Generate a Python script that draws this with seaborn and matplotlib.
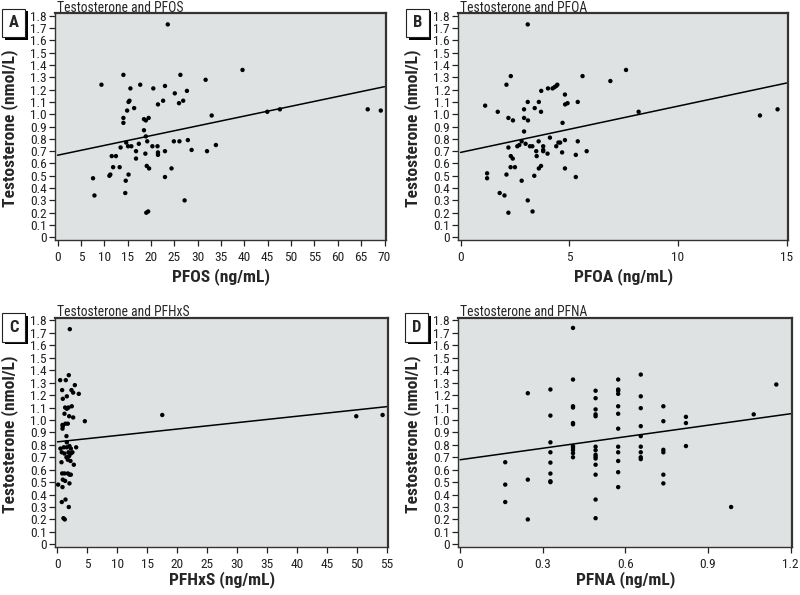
import pandas as pd
import matplotlib
matplotlib.use("Agg")
import matplotlib.pyplot as plt
import matplotlib.patheffects as pe
from matplotlib import font_manager
import seaborn as sns

# Panel A: PFOS
pfos_x = [23.6, 66.4, 69.2, 44.9, 47.6, 39.6, 31.7, 26.3, 14.1, 9.4, 17.7, 15.6, 20.5, 23.0,
          27.7, 25.1, 15.2, 15.4, 22.6, 26.9, 26.0, 21.5, 16.4, 14.9, 33.0, 14.1, 14.1, 19.5,
          18.5, 18.9, 18.5, 18.9, 19.2, 14.7, 17.4, 15.1, 15.8, 20.3, 21.4, 13.5, 24.9, 26.1,
          27.9, 33.9, 16.8, 23.0, 28.7, 32.0, 21.5, 21.5, 18.8, 11.6, 12.5, 16.8, 11.9, 13.3,
          19.1, 19.6, 24.4, 15.2, 11.3, 11.1, 7.6, 23.0, 14.6, 14.5, 7.9, 27.2, 19.0, 19.4]
pfos_y = [1.73, 1.04, 1.03, 1.02, 1.04, 1.36, 1.28, 1.32, 1.32, 1.24, 1.24, 1.21, 1.21, 1.23,
          1.19, 1.17, 1.10, 1.11, 1.11, 1.11, 1.09, 1.08, 1.05, 1.03, 0.99, 0.97, 0.93, 0.97,
          0.96, 0.95, 0.87, 0.82, 0.78, 0.77, 0.76, 0.74, 0.74, 0.74, 0.74, 0.73, 0.78, 0.78,
          0.79, 0.75, 0.70, 0.70, 0.71, 0.70, 0.69, 0.67, 0.68, 0.66, 0.66, 0.64, 0.57, 0.57,
          0.58, 0.56, 0.56, 0.51, 0.51, 0.50, 0.48, 0.49, 0.46, 0.36, 0.34, 0.30, 0.20, 0.21]

# Panel B: PFOA
pfoa_x = [3.09, 14.58, 13.77, 8.19, 7.61, 6.89, 5.61, 2.31, 2.11, 4.02, 4.23, 4.32, 4.40, 4.45,
          3.71, 4.80, 3.09, 3.60, 5.39, 4.92, 4.81, 1.13, 2.92, 1.71, 3.41, 3.70, 2.20, 2.92,
          3.10, 2.41, 4.69, 2.92, 4.11, 2.81, 3.59, 4.80, 5.39, 4.50, 4.58, 2.99, 3.19, 3.30,
          2.70, 2.61, 3.80, 4.40, 2.20, 3.48, 3.80, 3.80, 5.80, 4.00, 4.67, 5.30, 2.31, 3.50,
          2.40, 2.30, 2.50, 3.70, 3.60, 4.80, 1.22, 1.22, 2.11, 3.39, 5.30, 2.81, 1.80, 2.02,
          3.09, 2.20, 3.31]
pfoa_y = [1.73, 1.04, 0.99, 1.02, 1.36, 1.27, 1.31, 1.31, 1.24, 1.21, 1.21, 1.22, 1.23, 1.24,
          1.19, 1.16, 1.10, 1.10, 1.10, 1.09, 1.08, 1.07, 1.04, 1.02, 1.05, 1.02, 0.97, 0.97,
          0.95, 0.95, 0.93, 0.86, 0.81, 0.78, 0.78, 0.79, 0.78, 0.77, 0.77, 0.76, 0.74, 0.74,
          0.75, 0.74, 0.74, 0.74, 0.73, 0.70, 0.71, 0.70, 0.70, 0.68, 0.69, 0.67, 0.66, 0.66,
          0.64, 0.57, 0.57, 0.58, 0.56, 0.56, 0.52, 0.48, 0.51, 0.50, 0.49, 0.46, 0.36, 0.34,
          0.30, 0.20, 0.21]

# Panel C: PFHxS
pfhxs_x = [2.06, 49.9, 54.3, 17.5, 4.57, 1.89, 0.45, 1.39, 2.90, 0.78, 2.34, 2.62, 3.56, 1.56,
           0.89, 1.28, 1.56, 1.84, 2.39, 1.17, 1.95, 2.62, 0.84, 0.89, 1.34, 1.73, 0.84, 1.50,
           1.56, 0.50, 1.06, 1.56, 2.00, 2.23, 3.12, 0.72, 1.17, 1.84, 2.50, 2.23, 1.50, 1.95,
           1.73, 2.17, 0.67, 2.73, 0.78, 1.17, 1.73, 2.00, 2.23, 0.89, 1.28, 2.00, 0.11, 0.84,
           1.34, 0.72, 1.89, 1.00, 1.22]
pfhxs_y = [1.73, 1.03, 1.04, 1.04, 0.99, 1.36, 1.32, 1.32, 1.28, 1.24, 1.24, 1.22, 1.21, 1.19,
           1.17, 1.10, 1.09, 1.10, 1.11, 1.05, 1.03, 1.02, 0.96, 0.95, 0.97, 0.97, 0.93, 0.87,
           0.82, 0.77, 0.78, 0.78, 0.79, 0.77, 0.78, 0.74, 0.73, 0.74, 0.74, 0.73, 0.70, 0.71,
           0.68, 0.67, 0.66, 0.64, 0.57, 0.57, 0.57, 0.56, 0.56, 0.52, 0.51, 0.49, 0.48, 0.46,
           0.36, 0.34, 0.30, 0.21, 0.20]

# Panel D: PFNA (values fall in discrete columns)
pfna_x = ([0.164] * 3 + [0.246] * 3 + [0.328] * 8 + [0.41] * 11 + [0.492] * 14
          + [0.574] * 12 + [0.656] * 9 + [0.738] * 6 + [0.82] * 3 + [0.984, 1.066, 1.148])
pfna_y = [0.66, 0.48, 0.34,
          1.215, 0.52, 0.20,
          1.245, 1.035, 0.82, 0.74, 0.657, 0.569, 0.507, 0.50,
          1.74, 1.325, 1.11, 1.10, 0.975, 0.965, 0.79, 0.775, 0.757, 0.733, 0.70,
          1.235, 1.175, 1.085, 1.045, 1.03, 0.785, 0.757, 0.72, 0.705, 0.69, 0.64, 0.56, 0.36, 0.21,
          1.325, 1.245, 1.235, 1.21, 1.11, 1.05, 0.93, 0.785, 0.74, 0.67, 0.58, 0.46,
          1.365, 1.19, 1.095, 0.95, 0.87, 0.785, 0.74, 0.70, 0.685,
          1.11, 0.99, 0.76, 0.74, 0.56, 0.49,
          1.025, 0.975, 0.79,
          0.30, 1.045, 1.285]

# regression lines (value at x=0, value at right end)
fit_start = [0.667, 0.69, 0.824, 0.68]
fit_end = [1.224, 1.254, 1.107, 1.05]

letters = ["A", "B", "C", "D"]
titles = ["Testosterone and PFOS", "Testosterone and PFOA",
          "Testosterone and PFHxS", "Testosterone and PFNA"]
xlabels = ["PFOS (ng/mL)", "PFOA (ng/mL)", "PFHxS (ng/mL)", "PFNA (ng/mL)"]
xticks = [list(range(0, 71, 5)), [0, 5, 10, 15], list(range(0, 56, 5)), [0, 0.3, 0.6, 0.9, 1.2]]
xtick_labels = [[str(v) for v in xticks[0]], ["0", "5", "10", "15"],
                [str(v) for v in xticks[2]], ["0", "0.3", "0.6", "0.9", "1.2"]]
xlims = [(-0.5, 70.4), (-0.1, 15.06), (-0.38, 55.2), (-0.006, 1.205)]
yticks = [i / 10 for i in range(19)]
ytick_labels = ["0"] + ["%.1f" % v for v in yticks[1:]]

xs = [pfos_x, pfoa_x, pfhxs_x, pfna_x]
ys = [pfos_y, pfoa_y, pfhxs_y, pfna_y]

sns.set_style("white")

# the original uses a condensed face; pick one if the system has it
entries = font_manager.fontManager.ttflist
names = {f.name for f in entries}
narrow = [n for n in ["Liberation Sans Narrow", "Roboto Condensed", "Open Sans Condensed",
                      "Noto Sans Condensed", "DejaVu Sans Condensed"] if n in names]
condensed = sorted({f.name for f in entries if f.stretch == "condensed"})
if narrow:
    plt.rcParams['font.family'] = [narrow[0], 'DejaVu Sans']
    scale = 1.0
elif condensed:
    fam = "DejaVu Sans" if "DejaVu Sans" in condensed else condensed[0]
    plt.rcParams['font.family'] = [fam, 'DejaVu Sans']
    plt.rcParams['font.stretch'] = 'condensed'
    scale = 0.9
else:
    plt.rcParams['font.family'] = ['DejaVu Sans']
    scale = 0.72

fig = plt.figure(figsize=(8, 5.95), dpi=100)
positions = [[0.069, 0.597, 0.414, 0.381], [0.573, 0.597, 0.412, 0.381],
             [0.069, 0.081, 0.416, 0.385], [0.573, 0.081, 0.417, 0.385]]
xlabel_y = [-0.162, -0.162, -0.142, -0.142]

for i in range(4):
    ax = fig.add_axes(positions[i])
    ax.set_facecolor("#dfe2e2")
    df = pd.DataFrame({"x": xs[i], "y": ys[i]})
    sns.scatterplot(data=df, x="x", y="y", ax=ax, color="black", s=10,
                    edgecolor="none", linewidth=0, zorder=3)
    lo, hi = xticks[i][0], xticks[i][-1]
    line = pd.DataFrame({"x": [lo, hi], "y": [fit_start[i], fit_end[i]]})
    sns.lineplot(data=line, x="x", y="y", ax=ax, color="black", linewidth=1.1, zorder=2)

    ax.set_xlim(*xlims[i])
    ax.set_ylim(-0.02, 1.822)
    ax.set_xticks(xticks[i])
    ax.set_xticklabels(xtick_labels[i], fontsize=9.6 * scale)
    ax.set_yticks(yticks)
    ax.set_yticklabels(ytick_labels, fontsize=9.6 * scale)
    ax.tick_params(direction="out", length=4, width=0.9, pad=2, colors="#222222",
                   left=True, bottom=True)
    ax.tick_params(axis="x", pad=4)
    for sp in ax.spines.values():
        sp.set_color("#333333")
        sp.set_linewidth(1.0)
    ax.spines["top"].set_linewidth(1.6)
    ax.spines["right"].set_linewidth(1.6)

    ax.set_xlabel(xlabels[i], fontsize=12.6 * scale, fontweight="bold", va="center")
    ax.set_ylabel("Testosterone (nmol/L)", fontsize=12.6 * scale, fontweight="bold")
    ax.xaxis.set_label_coords(0.5, xlabel_y[i])
    ax.yaxis.set_label_coords(-0.113, 0.49)
    ax.text(0.005, 1.006, titles[i], transform=ax.transAxes, fontsize=9.8 * scale,
            ha="left", va="baseline")

    t = ax.text(-0.125, 0.99, letters[i], transform=ax.transAxes, fontsize=12 * scale,
                fontweight="bold", ha="center", va="top",
                bbox=dict(boxstyle="square,pad=0.4", fc="white", ec="#222222", lw=0.8))
    t.get_bbox_patch().set_path_effects([
        pe.SimplePatchShadow(offset=(2, -2), shadow_rgbFace="black", alpha=1.0),
        pe.Normal()])

fig.savefig("out.png", dpi=100)
